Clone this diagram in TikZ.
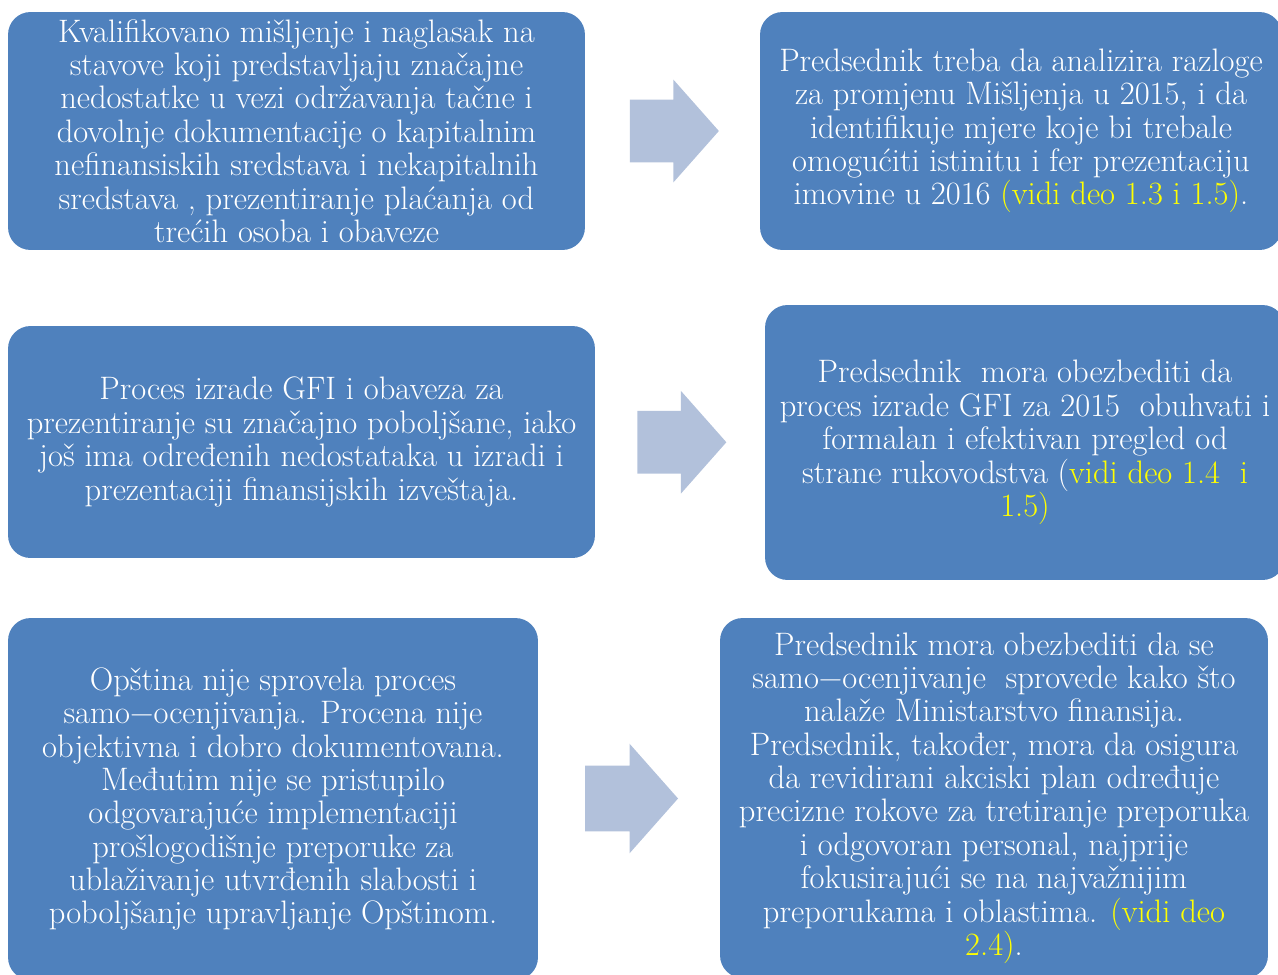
\documentclass[tikz,border=0pt]{standalone}
\usepackage{fontspec}
\usetikzlibrary{shapes.arrows,calc}

\definecolor{boxblue}{HTML}{4F81BD}
\definecolor{arrowblue}{HTML}{B2C1DB}
\definecolor{refyellow}{HTML}{FFFF00}

\tikzset{
  textbox/.style={fill=boxblue, rounded corners=0.45cm, text=white, align=center,
    inner sep=0pt, font=\fontsize{18.5}{19}\selectfont},
  blockarrow/.style={single arrow, fill=arrowblue, inner xsep=0pt, inner ysep=0.62cm,
    minimum height=1.78cm, single arrow head extend=0.4cm, single arrow tip angle=97,
    xshift=-0.24cm}
}
\newcommand{\vidi}[1]{\textcolor{refyellow}{#1}}

\begin{document}
\begin{tikzpicture}[x=0.02cm,y=-0.02cm]
        \useasboundingbox (0,0) rectangle (1278,974);

        % the findings on the left
        \node[textbox, minimum width=11.54cm, minimum height=4.76cm] (k1) at (296.5,131)
          {Kvalifikovano mišljenje i naglasak na\\ stavove koji predstavljaju značajne\\
           nedostatke u vezi održavanja tačne i\\ dovolnje dokumentacije o kapitalnim\\
           nefinansiskih sredstava i nekapitalnih\\ sredstava , prezentiranje plaćanja od\\
           trećih osoba i obaveze};
        \node[textbox, minimum width=11.74cm, minimum height=4.64cm] (k2) at (301.5,442)
          {Proces izrade GFI i obaveza za\\ prezentiranje su značajno poboljšane, iako\\
           još ima određenih nedostataka u izradi i\\ prezentaciji finansijskih izveštaja.};
        \node[textbox, minimum width=10.6cm, minimum height=7.24cm] (k3) at (273,799)
          {Opština nije sprovela proces\\ samo−ocenjivanja. Procena nije\\
           objektivna i dobro dokumentovana.\\ Međutim nije se pristupilo\\
           odgovarajuće implementaciji\\ prošlogodišnje preporuke za\\
           ublaživanje utvrđenih slabosti i\\ poboljšanje upravljanje Opštinom.};

        % the recommendations on the right
        \node[textbox, minimum width=10.44cm, minimum height=4.76cm] (p1) at (1021,131)
          {Predsednik treba da analizira razloge\\ za promjenu Mišljenja u 2015, i da\\
           identifikuje mjere koje bi trebale\\ omogućiti istinitu i fer prezentaciju\\
           imovine u 2016 \vidi{(vidi deo 1.3 i 1.5)}.};
        \node[textbox, minimum width=10.4cm, minimum height=5.5cm] (p2) at (1025,442.5)
          {Predsednik\ \ mora obezbediti da\\ proces izrade GFI za 2015\ \ obuhvati i\\
           formalan i efektivan pregled od\\ strane rukovodstva (\vidi{vidi deo 1.4\ \ i}\\
           \vidi{1.5)}};
        \node[textbox, minimum width=10.96cm, minimum height=7.2cm] (p3) at (994,798)
          {Predsednik mora obezbediti da se\\ samo−ocenjivanje\ \ sprovede kako što\\
           nalaže Ministarstvo finansija.\\ Predsednik, također, mora da osigura\\
           da revidirani akciski plan određuje\\ precizne rokove za tretiranje preporuka\\
           i odgovoran personal, najprije\\ fokusirajući se na najvažnijim\\
           preporukama i oblastima. \vidi{(vidi deo}\\ \vidi{2.4)}.};

        % the arrows between them
        \node[blockarrow] (a1) at ($(k1.east)!0.5!(p1.west)$) {};
        \node[blockarrow] (a2) at ($(k2.east)!0.5!(p2.west)$) {};
        \node[blockarrow, minimum height=1.86cm, inner ysep=0.65cm,
          single arrow head extend=0.44cm] (a3) at ($(k3.east)!0.5!(p3.west)$) {};

    \end{tikzpicture}
\end{document}
